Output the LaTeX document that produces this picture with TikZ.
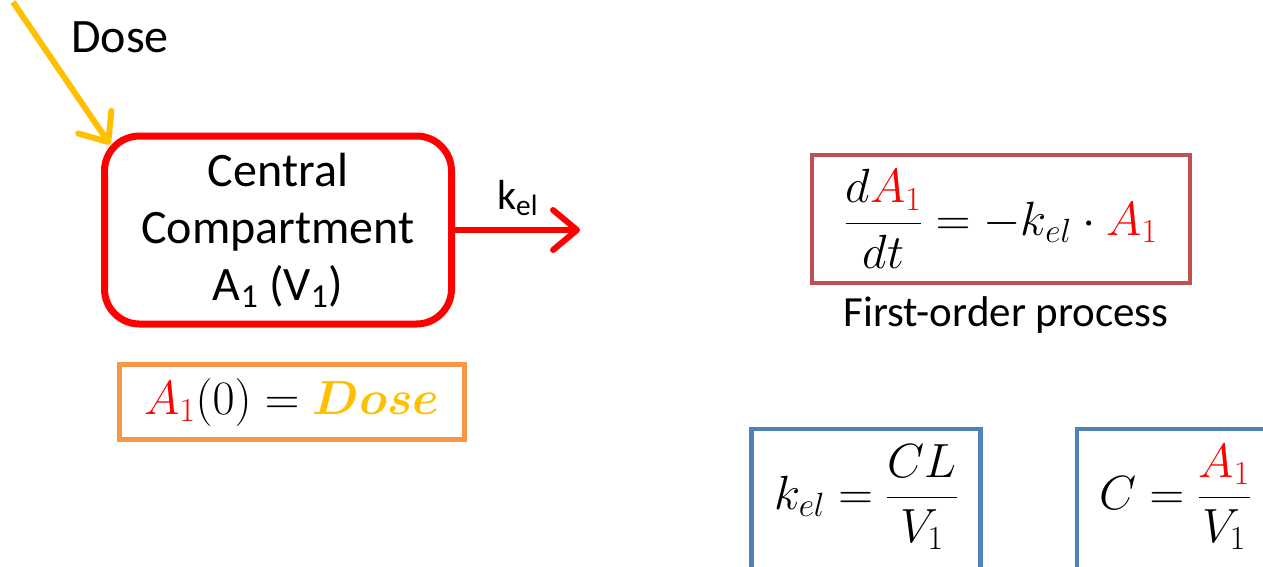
\RequirePackage{fix-cm}
\documentclass[tikz,border=0pt]{standalone}
\usepackage[no-math]{fontspec}
\usepackage{bm}
\setmainfont{Carlito}
\usetikzlibrary{arrows.meta}
\definecolor{dosegold}{HTML}{FFC000}
\definecolor{boxorange}{HTML}{F79646}
\definecolor{boxbrown}{HTML}{C0504D}
\definecolor{boxblue}{HTML}{4F81BD}
\newcommand{\Aone}{\textcolor{red}{A_1}}

\begin{document}
\begin{tikzpicture}[x=1pt,y=-1pt,
    txt/.style={font=\fontsize{48}{57}\selectfont},
    eqn/.style={font=\fontsize{48}{54}\selectfont,inner sep=0pt},
    eqbox/.style={draw,line width=4.5pt,inner sep=0pt},
    flow/.style={line width=6pt,-{Straight Barb[length=24pt,width=40pt,round]}}]
  \useasboundingbox (0,0) rectangle (1263,566);
  \clip (0,0) rectangle (1263,566);

  \node[draw=red,line width=7pt,rounded corners=35pt,minimum width=347pt,minimum height=188pt,
        txt,align=center] (central) at (278,230) {Central\\Compartment\\A\textsubscript{1} (V\textsubscript{1})};
  \node[txt] (dose) at (120,37) {Dose};
  \coordinate (dosestart) at (13,2);
  \draw[flow,dosegold] (dosestart) -- ([shift={(9pt,-12pt)}]central.north west);

  \coordinate (elim) at (580,230);
  \draw[flow,red] (central.east) -- (elim) node[midway,above=8pt,text=black,font=\fontsize{42}{48}\selectfont] {k\textsubscript{el}};

  \node[eqbox,draw=boxorange,minimum width=345pt,minimum height=75pt] (init) at (292,402) {};
  \node[eqn] at (init) {$\Aone(0)=\textcolor{dosegold}{\bm{Dose}}$};

  \node[eqbox,draw=boxbrown,minimum width=378pt,minimum height=128pt] (ode) at (1001,219) {};
  \node[eqn] at (ode) {$\displaystyle\frac{d\Aone}{dt}=-k_{el}\cdot\Aone$};
  \node[font=\fontsize{43}{48}\selectfont] (order) at (1006,315) {First-order process};

  \foreach \name/\x/\w/\eq in {kel/866/229/{k_{el}=\frac{CL}{V_1}},conc/1175/196/{C=\frac{\Aone}{V_1}}} {
    \node[eqbox,draw=boxblue,minimum width=\w pt,minimum height=140pt] (\name) at (\x,499) {};
    \node[eqn] at (\x,497) {$\displaystyle\eq$};
  }
\end{tikzpicture}
\end{document}
